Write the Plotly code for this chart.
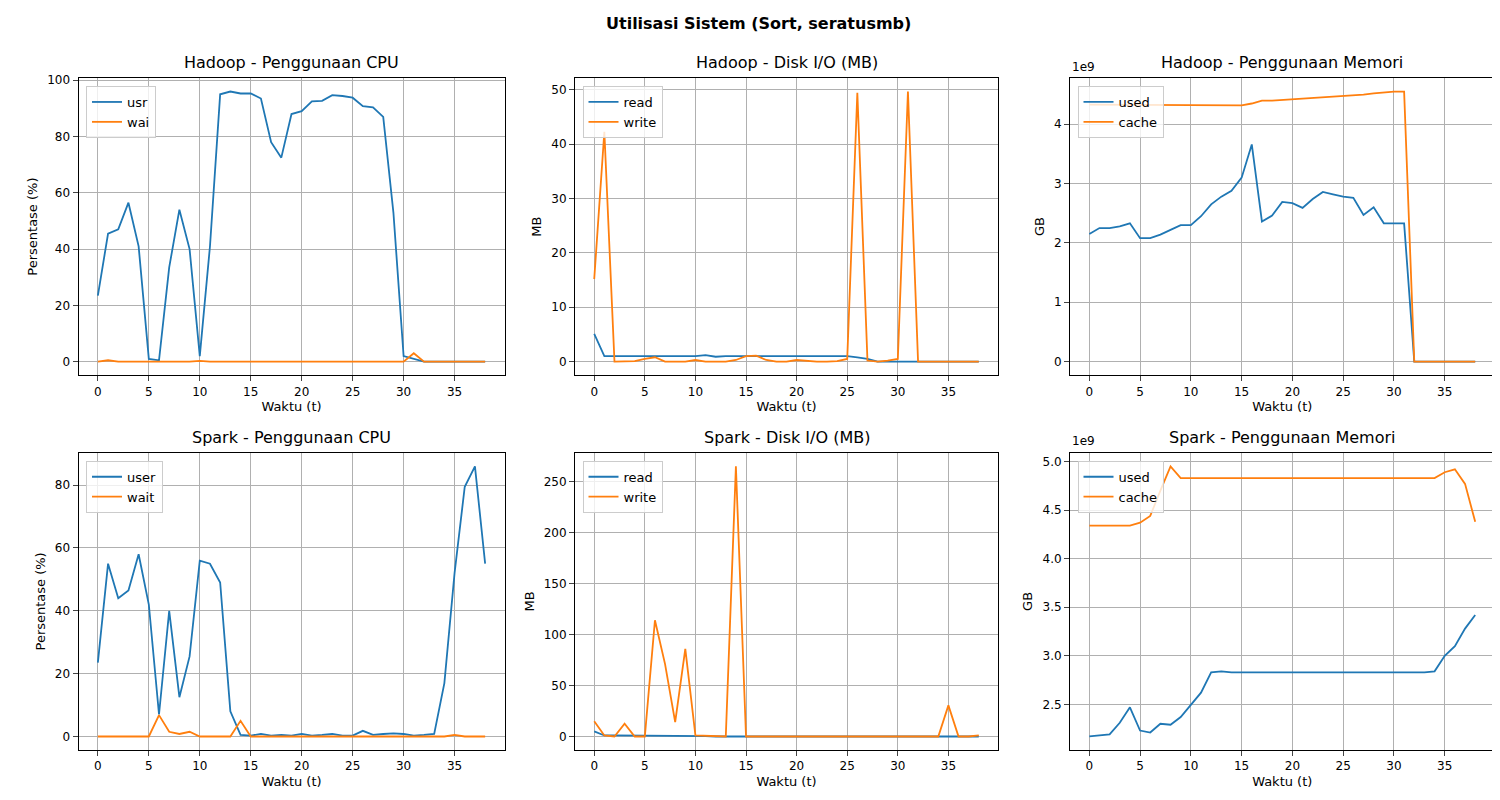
import plotly.graph_objects as go

t = list(range(39))

hadoop_usr = [23.5, 45.5, 47, 56.5, 41, 1, 0.5, 33.5, 54, 40, 2, 41, 95, 96, 95.3, 95.3, 93.5, 78, 72.5,
              88, 89, 92.5, 92.7, 94.7, 94.4, 93.8, 90.8, 90.4, 87, 53, 2, 1, 0, 0, 0, 0, 0, 0, 0]
hadoop_wai = [0, 0.5, 0, 0, 0, 0, 0, 0, 0, 0, 0.3, 0, 0, 0, 0, 0, 0, 0, 0, 0, 0, 0, 0, 0, 0, 0, 0, 0, 0,
              0, 0, 3, 0, 0, 0, 0, 0, 0, 0]
hadoop_read = [5.1, 1, 1, 1, 1, 1, 1, 1, 1, 1, 1, 1.2, 0.9, 1, 1, 1, 1, 1, 1, 1, 1, 1, 1, 1, 1, 1, 0.8,
               0.5, 0, 0, 0, 0, 0, 0, 0, 0, 0, 0, 0]
hadoop_write = [15.2, 42.3, 0, 0, 0.1, 0.5, 0.8, 0, 0, 0, 0.3, 0, 0, 0, 0.3, 1, 1.1, 0.3, 0, 0, 0.3, 0.1,
                0, 0, 0.1, 0.5, 49.5, 0.2, 0, 0.2, 0.5, 49.7, 0, 0, 0, 0, 0, 0, 0]
hadoop_used = [2.15, 2.25, 2.25, 2.28, 2.33, 2.08, 2.08, 2.14, 2.22, 2.30, 2.30, 2.45, 2.65, 2.78, 2.88,
               3.1, 3.66, 2.36, 2.46, 2.69, 2.67, 2.59, 2.74, 2.86, 2.82, 2.78, 2.76, 2.47, 2.60, 2.33,
               2.33, 2.33, 0, 0, 0, 0, 0, 0, 0]
hadoop_cache = [4.33, 4.33, 4.33, 4.33, 4.33, 4.32, 4.32, 4.32, 4.32, 4.32, 4.32, 4.32, 4.32, 4.32, 4.32,
                4.32, 4.35, 4.40, 4.40, 4.41, 4.42, 4.43, 4.44, 4.45, 4.46, 4.47, 4.49, 4.50, 4.52, 4.54,
                4.55, 4.55, 0, 0, 0, 0, 0, 0, 0]

spark_user = [23.5, 55, 44, 46.5, 58, 42, 7, 40, 12.5, 25.5, 56, 55, 49, 8, 0.5, 0.3, 0.8, 0.3, 0.5, 0.3,
              0.8, 0.3, 0.5, 0.8, 0.3, 0.3, 1.8, 0.5, 0.8, 1, 0.8, 0.3, 0.5, 0.8, 17, 52, 79.5, 86, 55]
spark_wait = [0, 0, 0, 0, 0, 0, 6.8, 1.5, 0.8, 1.5, 0, 0, 0, 0, 5, 0, 0, 0, 0, 0, 0, 0, 0, 0, 0, 0, 0, 0,
              0, 0, 0, 0, 0, 0, 0, 0.5, 0, 0, 0]
spark_read = [5, 1, 1, 1, 1, 0.8, 0.8, 0.8, 0.8, 0.8, 0.5, 0.3, 0, 0, 0, 0, 0, 0, 0, 0, 0, 0, 0, 0, 0, 0,
              0, 0, 0, 0, 0, 0, 0, 0, 0, 0, 0, 0, 0]
spark_write = [15, 1, 0, 12.5, 0, 0, 114, 71, 14, 86, 1, 0.5, 0, 0, 265, 0, 0, 0, 0, 0, 0, 0, 0, 0, 0, 0,
               0, 0, 0, 0, 0, 0, 0, 0, 0, 30.5, 0, 0, 1]
spark_used = [2.17, 2.18, 2.19, 2.31, 2.47, 2.23, 2.21, 2.30, 2.29, 2.37, 2.49, 2.62, 2.83, 2.84, 2.83,
              2.83, 2.83, 2.83, 2.83, 2.83, 2.83, 2.83, 2.83, 2.83, 2.83, 2.83, 2.83, 2.83, 2.83, 2.83,
              2.83, 2.83, 2.83, 2.83, 2.84, 3.0, 3.1, 3.28, 3.42]
spark_cache = [4.34, 4.34, 4.34, 4.34, 4.34, 4.37, 4.44, 4.70, 4.95, 4.83, 4.83, 4.83, 4.83, 4.83, 4.83,
               4.83, 4.83, 4.83, 4.83, 4.83, 4.83, 4.83, 4.83, 4.83, 4.83, 4.83, 4.83, 4.83, 4.83, 4.83,
               4.83, 4.83, 4.83, 4.83, 4.83, 4.89, 4.92, 4.77, 4.38]

BLUE, ORANGE = "#1f77b4", "#ff7f0e"
XDOM = [(0.047, 0.331), (0.378, 0.660), (0.708, 0.991)]
YDOM = [(0.541, 0.9125), (0.0725, 0.444)]

panels = [
    ("Hadoop - Penggunaan CPU", "Persentase (%)", hadoop_usr, hadoop_wai, ("usr", "wai"), [-4.8, 100.8], 20, 1),
    ("Hadoop - Disk I/O (MB)", "MB", hadoop_read, hadoop_write, ("read", "write"), [-2.5, 52.2], 10, 1),
    ("Hadoop - Penggunaan Memori", "GB", hadoop_used, hadoop_cache, ("used", "cache"), [-0.23, 4.78], 1, 1e9),
    ("Spark - Penggunaan CPU", "Persentase (%)", spark_user, spark_wait, ("user", "wait"), [-4.3, 90.3], 20, 1),
    ("Spark - Disk I/O (MB)", "MB", spark_read, spark_write, ("read", "write"), [-13.25, 278.25], 50, 1),
    ("Spark - Penggunaan Memori", "GB", spark_used, spark_cache, ("used", "cache"), [2.03, 5.09], 0.5, 1e9),
]

fig = go.Figure()
annotations = []
for i, (title, ylab, s1, s2, names, yr, dt, scale) in enumerate(panels):
    r, c = divmod(i, 3)
    n = i + 1
    sfx = "" if n == 1 else str(n)
    leg = "legend" if n == 1 else f"legend{n}"
    for s, name, col in ((s1, names[0], BLUE), (s2, names[1], ORANGE)):
        fig.add_trace(go.Scatter(
            x=t, y=[v * scale for v in s], mode="lines", name=name,
            line=dict(color=col, width=1.8), xaxis=f"x{sfx}", yaxis=f"y{sfx}", legend=leg,
        ))
    x0, x1 = XDOM[c]
    y0, y1 = YDOM[r]
    axis_style = dict(showline=True, mirror=True, linecolor="black", linewidth=1, ticks="outside",
                      showgrid=True, gridcolor="#b0b0b0", gridwidth=1, zeroline=False, automargin=False,
                      tickfont=dict(size=12, color="black"))
    ytick = dict(dtick=dt * scale)
    if scale != 1:
        ks = [k for k in range(0, 11) if yr[0] <= k * dt <= yr[1]]
        ytick = dict(tickmode="array",
                     tickvals=[k * dt * scale for k in ks],
                     ticktext=[f"{k * dt:g}" if dt >= 1 else f"{k * dt:.1f}" for k in ks])
        annotations.append(dict(text="1e9", x=x0, y=y1 + 0.003, xref="paper", yref="paper", xanchor="left",
                                yanchor="bottom", showarrow=False, font=dict(size=12)))
    fig.update_layout({
        f"xaxis{sfx}": dict(domain=[x0, x1], anchor=f"y{sfx}", range=[-1.9, 39.9], dtick=5,
                            title=dict(text="Waktu (t)", font=dict(size=13), standoff=4), **axis_style),
        f"yaxis{sfx}": dict(domain=[y0, y1], anchor=f"x{sfx}", range=[yr[0] * scale, yr[1] * scale],
                            title=dict(text=ylab, font=dict(size=13), standoff=6), **ytick, **axis_style),
        leg: dict(x=x0 + 0.005, y=y1 - 0.01, xanchor="left", yanchor="top", bgcolor="rgba(255,255,255,0.8)",
                  bordercolor="#cccccc", borderwidth=1, font=dict(size=13), tracegroupgap=0),
    })
    annotations.append(dict(text=title, x=(x0 + x1) / 2, y=y1 + 0.005, xref="paper", yref="paper",
                            xanchor="center", yanchor="bottom", showarrow=False, font=dict(size=16)))

annotations.append(dict(text="<b>Utilisasi Sistem (Sort, seratusmb)</b>", x=0.5, y=0.995, xref="paper",
                        yref="paper", xanchor="center", yanchor="top", showarrow=False, font=dict(size=16)))

fig.update_layout(
    width=1500, height=800, margin=dict(l=0, r=0, t=0, b=0),
    paper_bgcolor="white", plot_bgcolor="white",
    font=dict(family="DejaVu Sans", color="black"),
    annotations=annotations,
)

fig.write_html("out.html")
